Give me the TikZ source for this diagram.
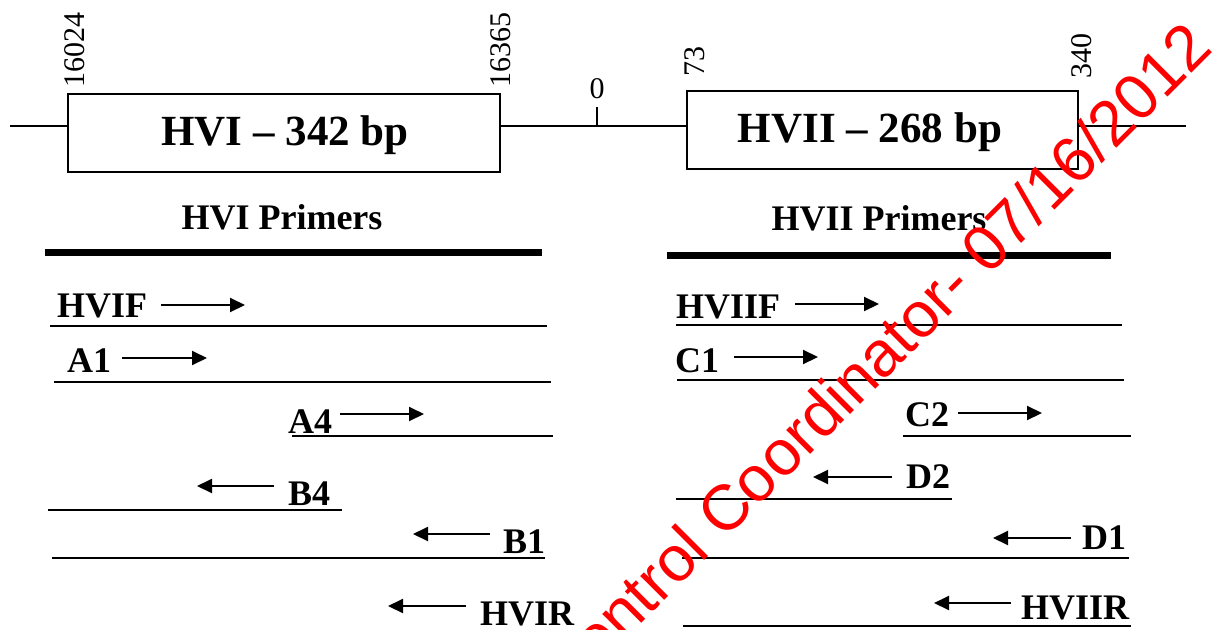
\documentclass[tikz,border=0pt]{standalone}
\usepackage{fontspec}
\setmainfont{Liberation Serif}
\newfontfamily\markfont{Liberation Sans}
\usetikzlibrary{arrows.meta, positioning}
\definecolor{stampred}{RGB}{255,0,0}
\tikzset{
  regionbox/.style={draw=black, line width=2pt, inner sep=0pt},
  regionlbl/.style={inner sep=0pt, anchor=base, font=\fontsize{43}{48}\selectfont\bfseries},
  axisline/.style={draw=black, line width=2pt},
  poslbl/.style={inner sep=0pt, font=\fontsize{30}{34}\selectfont},
  headlbl/.style={inner sep=0pt, font=\fontsize{36}{40}\selectfont\bfseries},
  headbar/.style={draw=black, line width=7pt},
  primlbl/.style={inner sep=0pt, anchor=base west, font=\fontsize{36}{40}\selectfont\bfseries},
  seqline/.style={draw=black, line width=2.5pt},
  primarrow/.style={draw=black, line width=2pt, -{Triangle[length=15pt,width=14pt]}},
  stamp/.style={inner sep=0pt, text=stampred, font=\fontsize{64}{70}\selectfont\markfont}
}

\begin{document}
\begin{tikzpicture}[x=1pt, y=-1pt]
  \useasboundingbox (0,0) rectangle (1214,629);

  % control region map
  \coordinate (mL) at (10,126);
  \coordinate (mR) at (1186,126);
  \node[regionbox, minimum width=432pt, minimum height=78pt] (hvi) at (284,133) {};
  \node[regionbox, minimum width=391pt, minimum height=78pt] (hvii) at (882.5,130) {};
  \node[regionlbl] (hvilbl) at (285,145) {HVI -- 342 bp};
  \node[regionlbl] (hviilbl) at (870,142) {HVII -- 268 bp};
  \draw[axisline] (mL) -- (mL -| hvi.west);
  \draw[axisline] (mL -| hvi.east) -- (mL -| hvii.west);
  \draw[axisline] (mL -| hvii.east) -- (mR);
  \coordinate (orig) at (597,126);
  \coordinate (origtop) at (597,107);
  \draw[axisline] (orig) -- (origtop);
  \node[poslbl, anchor=base] (p0) at (597,98) {0};
  \node[poslbl, rotate=90, anchor=base west] (p16024) at (84,88) {16024};
  \node[poslbl, rotate=90, anchor=base west] (p16365) at (510,88) {16365};
  \node[poslbl, rotate=90, anchor=base west] (p73) at (704,77) {73};
  \node[poslbl, rotate=90, anchor=base west] (p340) at (1091,79) {340};

  % primer headings
  \node[headlbl, anchor=base] (hvihead) at (282,229) {HVI Primers};
  \node[headlbl, anchor=base] (hviihead) at (879,230) {HVII Primers};
  \coordinate (barAl) at (45,252);
  \coordinate (barAr) at (542,252);
  \coordinate (barBl) at (667,255);
  \coordinate (barBr) at (1111,255);
  \draw[headbar] (barAl) -- (barAr);
  \draw[headbar] (barBl) -- (barBr);

  % forward primers: name/label x/base y/arrow x1/arrow x2/arrow y/line x1/line x2/line y
  \foreach \n/\tx/\ty/\ax/\bx/\ay/\lx/\rx/\ly in {
      HVIF/57/317/161/245/305/50/547/326,
      A1/67/372/122/207/358/54/551/382,
      A4/288/433/340/424/414/292/553/436,
      HVIIF/676/318/795/879/304/676/1122/325,
      C1/675/372/734/818/357/677/1124/380,
      C2/905/426/958/1042/413/903/1131/436}{
    \node[primlbl] (\n) at (\tx,\ty) {\n};
    \coordinate (\n-s) at (\ax,\ay);
    \coordinate (\n-e) at (\bx,\ay);
    \coordinate (\n-l) at (\lx,\ly);
    \coordinate (\n-r) at (\rx,\ly);
    \draw[primarrow] (\n-s) -- (\n-e);
    \draw[seqline] (\n-l) -- (\n-r);
  }

  % reverse primers
  \foreach \n/\tx/\ty/\ax/\bx/\ay/\lx/\rx/\ly in {
      B4/288/505/274/197/486/48/342/510,
      B1/503/553/490/413/534/52/545/558,
      D2/906/488/892/813/477/676/952/499,
      D1/1082/549/1071/993/538/682/1129/558,
      HVIIR/1021/619/1011/934/603/683/1131/626}{
    \node[primlbl] (\n) at (\tx,\ty) {\n};
    \coordinate (\n-s) at (\ax,\ay);
    \coordinate (\n-e) at (\bx,\ay);
    \coordinate (\n-l) at (\lx,\ly);
    \coordinate (\n-r) at (\rx,\ly);
    \draw[primarrow] (\n-s) -- (\n-e);
    \draw[seqline] (\n-l) -- (\n-r);
  }
  \node[primlbl] (HVIR) at (480,625) {HVIR};
  \coordinate (HVIR-s) at (466,606);
  \coordinate (HVIR-e) at (388,606);
  \draw[primarrow] (HVIR-s) -- (HVIR-e);

  % stamp
  \begin{scope}
    \clip (0,0) rectangle (1214,629);
    \node[stamp, rotate=45, anchor=base east] (stampnote) at (1215,50) {Control Coordinator- 07/16/2012};
  \end{scope}
\end{tikzpicture}
\end{document}
